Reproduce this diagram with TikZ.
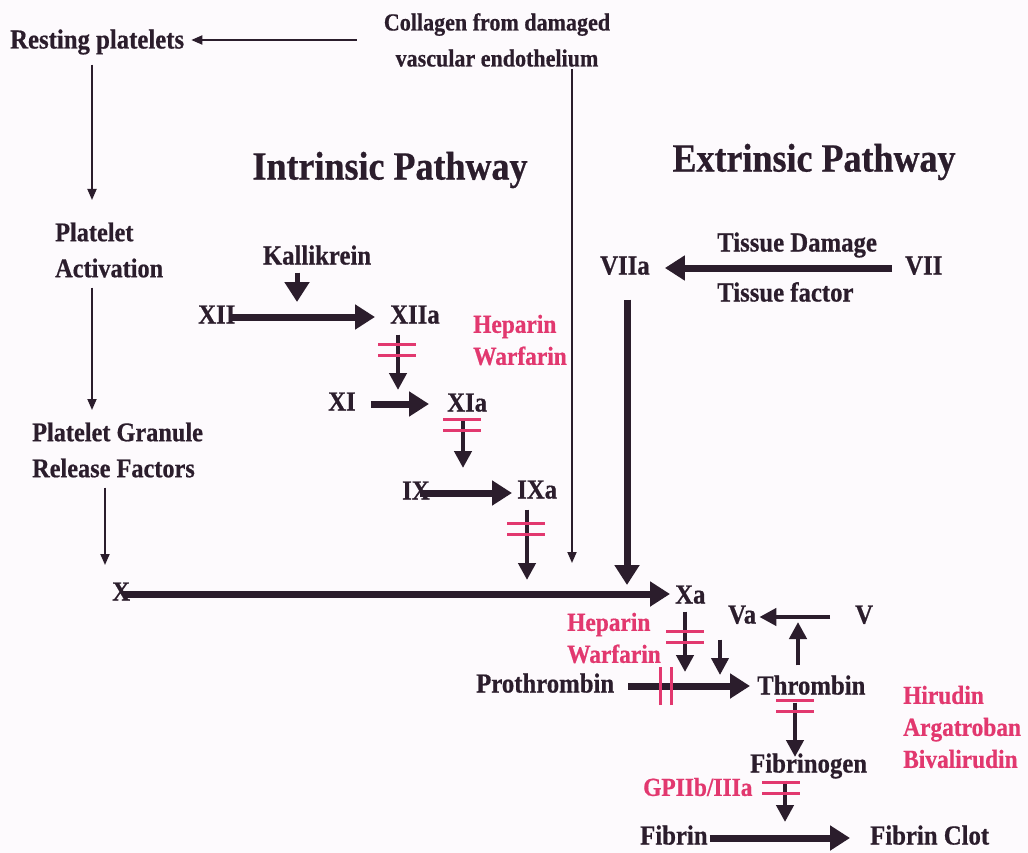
\documentclass[tikz,border=0pt]{standalone}
\usepackage{fontspec}
\setmainfont{Liberation Serif}[FakeStretch=0.9,BoldFeatures={FakeBold=0.6}]
\usepackage{tikz}
\usetikzlibrary{arrows.meta,positioning,calc}
\definecolor{ink}{HTML}{2B1D2C}
\definecolor{drugred}{HTML}{E2386F}
\definecolor{paper}{HTML}{FDFAFD}

\begin{document}
\begin{tikzpicture}[
  x=1pt,y=-1pt,
  lbl/.style={inner sep=2pt,text=ink,font=\fontsize{27.5}{36}\selectfont\bfseries,
              text height=19pt,text depth=6pt},
  lbltwo/.style={inner sep=2pt,text=ink,font=\fontsize{27}{36}\selectfont\bfseries,align=left},
  drug/.style={inner sep=2pt,text=drugred,font=\fontsize{26}{32}\selectfont\bfseries,align=left},
  title/.style={inner sep=0pt,text=ink,font=\fontsize{40}{48}\selectfont\bfseries},
  thinarr/.style={draw=ink,line width=1.8pt,-{Triangle[length=11pt,width=9pt]}},
  bigarr/.style={draw=ink,line width=7pt,-{Triangle[length=20pt,width=24pt]}},
  midarr/.style={draw=ink,line width=4.5pt,-{Triangle[length=17pt,width=17pt]}},
  blockh/.style={draw=drugred,line width=2.4pt},
  inhibit/.pic={\draw[blockh] (-19,-5.5) -- (19,-5.5) (-19,5.5) -- (19,5.5);}
]
  \fill[paper] (0,0) rectangle (1028,853);
  \useasboundingbox (0,0) rectangle (1028,853);

  % titles
  \node[title] (intr) at (390,170) {Intrinsic Pathway};
  \node[title] (extr) at (814,162) {Extrinsic Pathway};

  % platelet side
  \node[lbl,anchor=west] (rest) at (8,42) {Resting platelets};
  \node[lbltwo,align=center,font=\fontsize{24.5}{36}\selectfont\bfseries] (collagen) at (497,40)
    {Collagen from damaged\\vascular endothelium};
  \node[lbltwo,anchor=west] (pact) at (53,250) {Platelet\\Activation};
  \node[lbltwo,anchor=west] (pgr) at (30,450) {Platelet Granule\\Release Factors};

  % intrinsic cascade
  \node[lbl] (kall) at (317,258) {Kallikrein};
  \node[lbl,anchor=west] (xii) at (196,317) {XII};
  \node[lbl,anchor=west] (xiia) at (388,317) {XIIa};
  \node[drug,anchor=west] (hepa) at (471,340) {Heparin\\Warfarin};
  \node[lbl,anchor=west] (xi) at (326,404) {XI};
  \node[lbl,anchor=west] (xia) at (445,405) {XIa};
  \node[lbl,anchor=west] (ix) at (400,493) {IX};
  \node[lbl,anchor=west] (ixa) at (515,492) {IXa};

  % extrinsic cascade
  \node[lbl,anchor=west] (viia) at (598,268) {VIIa};
  \node[lbl,anchor=west] (vii) at (903,268) {VII};
  \node[lbl,anchor=west] (tdam) at (715,245) {Tissue Damage};
  \node[lbl,anchor=west] (tfac) at (715,295) {Tissue factor};

  % common pathway
  \node[lbl,anchor=west] (x) at (110,594) {X};
  \node[lbl,anchor=west] (xa) at (673,597) {Xa};
  \node[drug,anchor=west] (hepb) at (565,638) {Heparin\\Warfarin};
  \node[lbl,anchor=west] (va) at (726,617) {Va};
  \node[lbl,anchor=west] (v) at (853,617) {V};
  \node[lbl,anchor=west] (proth) at (474,686) {Prothrombin};
  \node[lbl,anchor=west] (thromb) at (755,688) {Thrombin};
  \node[drug,anchor=west] (hir) at (901,727) {Hirudin\\Argatroban\\Bivalirudin};
  \node[lbl,anchor=west] (fibg) at (748,766) {Fibrinogen};
  \node[drug,anchor=west] (gp) at (641,787) {GPIIb/IIIa};
  \node[lbl,anchor=west] (fib) at (638,838) {Fibrin};
  \node[lbl,anchor=west] (clot) at (868,838) {Fibrin Clot};

  % arrow tips
  \coordinate (p1) at (92,200);
  \coordinate (p2) at (92,410);
  \coordinate (p3) at (105,565);
  \coordinate (cdrop) at (572,563);
  \coordinate (k1) at (297,302);
  \coordinate (t1) at (398,390);
  \coordinate (t2) at (463,468);
  \coordinate (t3) at (527,580);
  \coordinate (t4) at (627,585);
  \coordinate (t5) at (685,672);
  \coordinate (t6) at (720,675);
  \coordinate (t7) at (798,622);
  \coordinate (t8) at (795,757);
  \coordinate (t9) at (785,822);

  % platelet arrows
  \draw[thinarr,shorten <=25pt,shorten >=5pt] (collagen.west) -- (collagen.west -| rest.east);
  \draw[thinarr] (collagen.south -| cdrop) -- (cdrop);
  \draw[thinarr,shorten <=8pt] (rest.south -| p1) -- (p1);
  \draw[thinarr,shorten <=8pt] (pact.south -| p2) -- (p2);
  \draw[thinarr,shorten <=8pt] (pgr.south -| p3) -- (p3);

  % cascade arrows
  \draw[bigarr,line width=5pt] (kall.south -| k1) -- (k1);
  \draw[bigarr,shorten <=-6pt,shorten >=13pt] (xii.east) -- (xii.east -| xiia.west);
  \draw[midarr,shorten <=3pt] (xiia.south -| t1) -- (t1);
  \draw[bigarr,shorten <=13pt,shorten >=16pt] (xi.east) -- (xi.east -| xia.west);
  \draw[midarr] (xia.south -| t2) -- (t2);
  \draw[bigarr,shorten <=-12pt,shorten >=3pt] (ix.east) -- (ix.east -| ixa.west);
  \draw[midarr,shorten <=3pt] (ixa.south -| t3) -- (t3);
  \draw[bigarr,shorten <=11pt,shorten >=13pt] (vii.west) -- (vii.west -| viia.east);
  \draw[bigarr,shorten <=17pt] (viia.south -| t4) -- (t4);
  \draw[bigarr,shorten <=-9pt,shorten >=3pt] (x.east) -- (x.east -| xa.west);
  \draw[midarr] (xa.south -| t5) -- (t5);
  \draw[midarr,line width=4pt,shorten <=8pt] (va.south -| t6) -- (t6);
  \draw[midarr,shorten <=23pt,shorten >=1pt] (v.west) -- (va.east);
  \draw[midarr,shorten <=8pt] (thromb.north -| t7) -- (t7);
  \draw[bigarr,shorten <=12pt,shorten >=5pt] (proth.east) -- (proth.east -| thromb.west);
  \draw[midarr] (thromb.south -| t8) -- (t8);
  \draw[midarr] (fibg.south -| t9) -- (t9);
  \draw[bigarr,shorten >=18pt] (fib.east) -- (clot.west);

  % inhibition bars
  \pic at (397,350) {inhibit};
  \pic at (462,425) {inhibit};
  \pic at (526,529) {inhibit};
  \pic at (685,637) {inhibit};
  \pic[rotate=90] at (666,686) {inhibit};
  \pic at (795,706) {inhibit};
  \pic at (781,788) {inhibit};
\end{tikzpicture}
\end{document}
